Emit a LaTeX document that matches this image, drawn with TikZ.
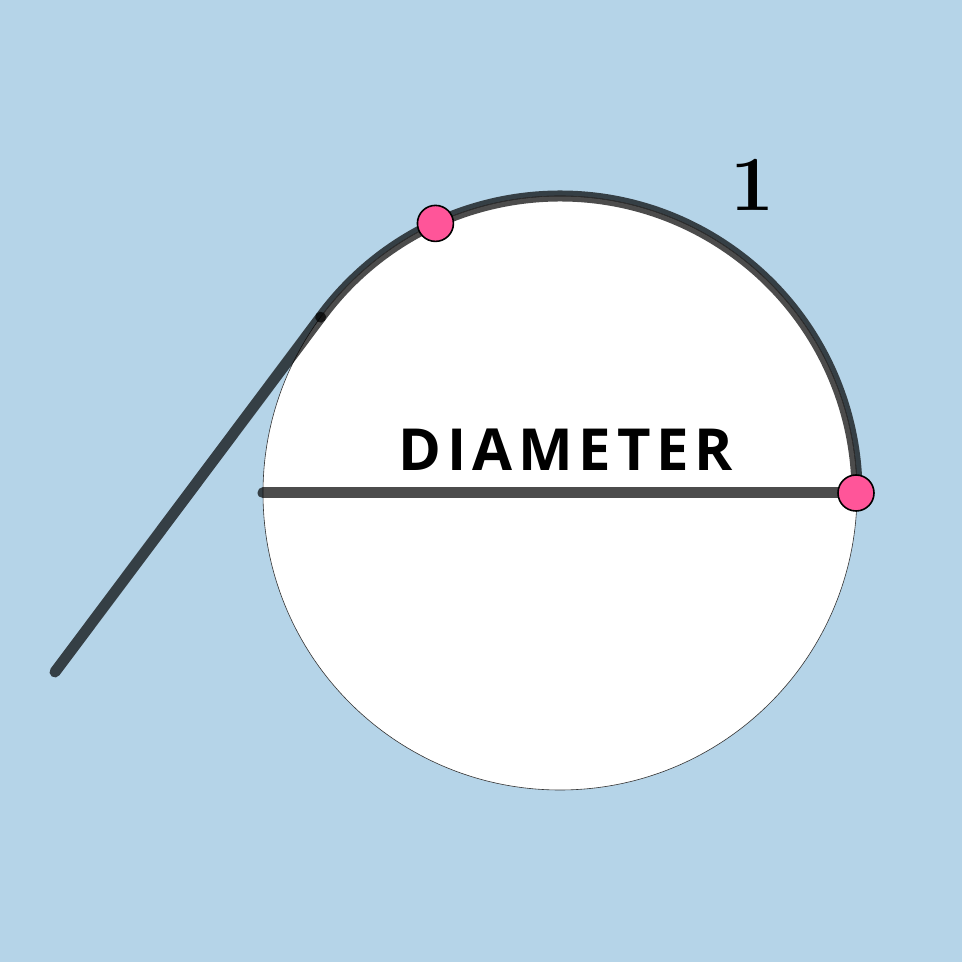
\documentclass[tikz,border=0pt]{standalone}
\usepackage{fontspec}
\usetikzlibrary{calc}
\newfontfamily\labelfont{Open Sans}[BoldFont={* Bold}, LetterSpace=10]
\definecolor{bgblue}{HTML}{B5D4E8}
\definecolor{pinkpt}{HTML}{FF5599}
\tikzset{
  thickseg/.style={line width=11pt, black, draw opacity=0.7, line cap=round},
  pointdot/.style={circle, fill=pinkpt, draw=black, line width=1.6pt, minimum size=36pt, inner sep=0pt},
}
\begin{document}
\begin{tikzpicture}[x=1pt,y=1pt]
\useasboundingbox (0,0) rectangle (962,962);
\fill[bgblue] (0,0) rectangle (962,962);
\coordinate (O) at (560,469);
\coordinate (A) at (55,290);
\coordinate (T) at ($(O)+(143.7:297)$);
\coordinate (Dl) at (263,469);
\coordinate (B) at (856,469);
% circle
\fill[white] (O) circle[radius=297];
\draw[line width=0.6pt, black!80] (O) circle[radius=297];
% diameter
\draw[thickseg] (Dl) -- (B);
% arc
\draw[thickseg] (T) arc[start angle=143.7, end angle=0, radius=297];
\draw[line width=0.6pt, black!80] (T) arc[start angle=143.7, end angle=0, radius=297];
% tangent line
\draw[thickseg] (A) -- (T);
% points
\node[pointdot] (P) at ($(O)+(114.8:297)$) {};
\node[pointdot] (Bp) at (B) {};
% labels
\node (one) at (752,777) {\bfseries\fontsize{78}{78}\selectfont 1};
\node (diam) at (566,512) {\labelfont\bfseries\fontsize{58}{58}\selectfont DIAMETER};
\end{tikzpicture}
\end{document}
